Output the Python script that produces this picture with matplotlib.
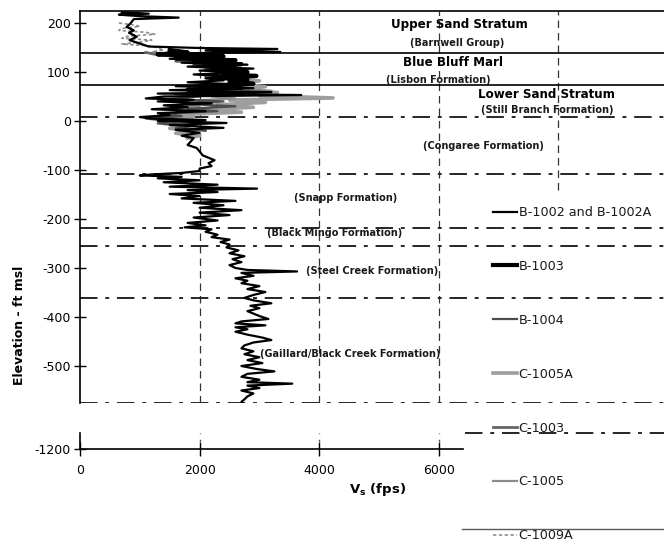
import matplotlib
matplotlib.use("Agg")
import matplotlib.pyplot as plt
from matplotlib.lines import Line2D

plt.rcParams["font.family"] = ["DejaVu Sans"]
plt.rcParams["axes.unicode_minus"] = False

# Shear-wave velocity profiles (elevation in ft msl, Vs in fps)
b1002_elev = [222, 219, 217, 214, 211, 208, 200, 192, 185, 180, 172, 165, 158, 152, 149, 147, 144,
              141, 138, 134, 130, 127, 123, 119, 115, 111, 107, 103, 99, 95, 91, 87, 83, 79, 75,
              71, 67, 63, 59, 56, 53, 50, 46, 43, 40, 36, 32, 28, 24, 20, 16, 12, 8, 5, 2, 0,
              -4, -8, -14, -18, -24, -30, -35, -42, -49, -55, -62, -70, -80, -86, -92, -97, -102,
              -106, -109, -111, -114, -117, -121, -125, -130, -134, -138, -141, -145, -149, -153,
              -158, -163, -167, -172, -177, -182, -187, -192, -197, -203, -208, -213, -217, -221,
              -226, -232, -237, -242, -247, -252, -258, -264, -270, -276, -282, -288, -294, -300,
              -304, -307, -310, -316, -321, -326, -331, -337, -343, -349, -355, -361, -366, -372,
              -377, -382, -388, -393, -398, -404, -409, -413, -417, -421, -425, -430, -436, -442,
              -447, -452, -458, -464, -470, -476, -482, -488, -494, -500, -506, -511, -516, -522,
              -528, -533, -536, -540, -545, -550, -556, -562, -568, -573, -577]
b1002_vs = [700, 1150, 650, 1000, 1650, 900, 850, 780, 900, 820, 950, 830, 1000, 1150, 2000, 3300, 2100,
            3350, 1600, 1400, 2200, 1500, 2600, 1700, 2800, 1800, 2900, 2000, 2700, 1900, 2500, 2100, 2400, 1800, 2600,
            1600, 2900, 1500, 3200, 1300, 3700, 1400, 1100, 1900, 1300, 2200, 1400, 1800, 1200, 2100, 1300, 1500, 1000, 1200, 2100, 1300,
            2450, 1500, 2400, 1600, 2000, 1700, 1900, 1850, 1800, 1950, 2000, 2050, 2250, 2150, 2200, 2000, 2000,
            1700, 1200, 1000, 1700, 1300, 2000, 1400, 2300, 1500, 2960, 1800, 2300, 1500, 2000,
            1700, 2600, 1900, 2400, 2000, 2700, 2000, 2500, 1900, 2300, 1800, 2100, 1750, 2200,
            2100, 2300, 2200, 2500, 2350, 2500, 2450, 2650, 2500, 2750, 2550, 2700, 2500, 2600,
            2800, 3630, 2700, 2900, 2600, 2800, 2700, 3000, 2800, 3100, 2900, 2750, 2900, 3200,
            2850, 3000, 2800, 2900, 3000, 3150, 2700, 2600, 3100, 2600, 2800, 2600, 2800, 3050,
            3200, 2900, 2750, 2700, 2900, 2750, 3000, 2800, 3050, 2700, 2950, 3250, 2800, 2700,
            3000, 2800, 3550, 2800, 3000, 2700, 2900, 2800, 2750, 2700, 2720]

b1003_elev = [145, 140, 136, 132, 128, 124, 120, 116, 112, 108, 104, 100, 96, 92, 88, 84, 80, 76, 72, 68, 64, 60]
b1003_vs = [1500, 1800, 1300, 2400, 1600, 2600, 1900, 2700, 2100, 2600, 2200, 2800, 2400, 2950, 2300, 2800,
            2500, 2900, 2200, 2700, 1800, 2100]

b1004_elev = [60, 55, 50, 45, 40, 35, 30, 25, 20, 15, 10, 5, 0, -5, -10, -15, -20]
b1004_vs = [2600, 1600, 2000, 1500, 2400, 1700, 2600, 1800, 2300, 1400, 1700, 1100, 1500, 1300, 1900, 1600, 2100]

c1005a_elev = [125, 118, 112, 106, 100, 94, 88, 82, 76, 70, 64, 58, 52, 47, 43, 38, 33, 28, 23, 18, 13, 9,
               4, 0, -5, -10, -15, -20, -25, -30, -35]
c1005a_vs = [1700, 2200, 1900, 2500, 2300, 2800, 2500, 3000, 2600, 3100, 2700, 3300, 3000, 4230, 2500, 3100,
             2300, 2900, 2000, 2700, 1600, 1900, 1300, 1600, 1400, 1800, 1500, 1900, 1600, 2000, 1800]

c1003_elev = [140, 135, 130, 126, 122, 118, 114, 110, 106, 102, 98, 94, 90, 86]
c1003_vs = [1100, 1300, 1800, 2200, 1600, 2400, 1900, 2600, 2100, 2700, 2300, 2500, 2100, 2400]

c1005_elev = [75, 70, 66, 62, 58, 54, 50, 46, 42, 38, 34, 30, 26, 22]
c1005_vs = [2100, 2800, 2400, 3200, 2600, 3000, 2200, 2600, 1900, 2300, 1700, 2000, 1500, 1800]

c1009a_elev = [200, 196, 193, 189, 185, 181, 177, 173, 169, 165, 161, 157, 153, 149, 145, 141, 137, 133]
c1009a_vs = [650, 900, 1000, 700, 650, 1100, 1250, 800, 700, 1200, 1000, 700, 1200, 1300, 1400, 1200, 1500, 1700]

# Stratigraphic boundaries (ft msl)
solid_bounds = [139, 73]
dashdot_bounds = [8, -108, -218, -255, -361, -575]

# Unit labels: (text, Vs position, elevation, bold)
unit_labels = [
    ("Upper Sand Stratum", 6338, 196, True),
    ("(Barnwell Group)", 6304, 159, False),
    ("Blue Bluff Marl", 6237, 120, True),
    ("(Lisbon Formation)", 5987, 84, False),
    ("Lower Sand Stratum", 7809, 55, True),
    ("(Still Branch Formation)", 7809, 22, False),
    ("(Congaree Formation)", 6739, -51, False),
    ("(Snapp Formation)", 4448, -157, False),
    ("(Black Mingo Formation)", 4264, -229, False),
    ("(Steel Creek Formation)", 4883, -306, False),
    ("(Gaillard/Black Creek Formation)", 4515, -476, False),
]

x_ticks = [0, 2000, 4000, 6000]
y_ticks = [200, 100, 0, -100, -200, -300, -400, -500]

W, H = 664, 544
fig = plt.figure(figsize=(W / 100, H / 100), dpi=100)

X_MAX = 9766
ax = fig.add_axes([80 / W, 1 - 403 / H, 1 - 80 / W, 392 / H])
ax.set_xlim(0, X_MAX)
ax.set_ylim(-575.5, 224.5)

dashdot = (0, (9, 4, 2, 4))
grid_dash = (0, (6, 4))
for gx in [2000, 4000, 6000]:
    ax.axvline(gx, color="0.2", lw=0.9, ls=grid_dash, zorder=1)
ax.plot([8000, 8000], [-141, 224.5], color="0.2", lw=0.9, ls=grid_dash, zorder=1)

for b in solid_bounds:
    ax.axhline(b, color="black", lw=1.2, zorder=2)
for b in dashdot_bounds:
    ax.axhline(b, color="0.15", lw=1.4, ls=dashdot, zorder=2)

series = [
    ("B-1002 and B-1002A", b1002_vs, b1002_elev, dict(color="black", lw=1.6, zorder=6)),
    ("B-1003", b1003_vs, b1003_elev, dict(color="black", lw=3.0, zorder=5)),
    ("B-1004", b1004_vs, b1004_elev, dict(color="0.3", lw=1.6, zorder=5)),
    ("C-1005A", c1005a_vs, c1005a_elev, dict(color="0.62", lw=2.6, zorder=4)),
    ("C-1003", c1003_vs, c1003_elev, dict(color="0.4", lw=2.0, zorder=4)),
    ("C-1005", c1005_vs, c1005_elev, dict(color="0.55", lw=1.6, zorder=4)),
    ("C-1009A", c1009a_vs, c1009a_elev, dict(color="0.55", lw=1.2, ls=(0, (2, 1.5)), zorder=4)),
]
handles = []
for name, vs, el, kw in series:
    line, = ax.plot(vs, el, label=name, **kw)
    handles.append(line)

for txt, xv, yv, bold in unit_labels:
    ax.text(xv, yv, txt, ha="center", va="center",
            fontsize=8.6 if bold else 7.0,
            fontweight="bold", color="black" if bold else "0.1", zorder=7)

for side in ["right", "bottom"]:
    ax.spines[side].set_visible(False)
ax.spines["top"].set_linewidth(1.2)
ax.spines["left"].set_linewidth(1.2)
ax.set_xticks([])
ax.set_yticks(y_ticks)
ax.set_yticklabels([str(t) for t in y_ticks])
ax.tick_params(axis="y", direction="inout", length=9, width=1.0, labelsize=9, pad=2)

# Lower panel for the deep interval
ax2 = fig.add_axes([80 / W, 1 - 449 / H, 1 - 80 / W, 16 / H])
ax2.set_xlim(0, X_MAX)
ax2.set_ylim(-1200, -1167)
for gx in [2000, 4000, 6000]:
    ax2.axvline(gx, color="0.3", lw=1.0, ls=(0, (1.5, 4)), zorder=1)
ax2.axhline(-1167, xmin=(465 - 80) / (W - 80), xmax=1, color="0.15", lw=1.4, ls=dashdot, clip_on=False)
for side in ["right", "top"]:
    ax2.spines[side].set_visible(False)
ax2.spines["bottom"].set_bounds(0, 6400)
ax2.spines["bottom"].set_linewidth(1.2)
ax2.spines["left"].set_linewidth(1.2)
ax2.set_yticks([-1200])
ax2.set_yticklabels(["-1200"])
ax2.set_xticks(x_ticks)
ax2.set_xticklabels([str(t) for t in x_ticks])
ax2.tick_params(axis="y", direction="inout", length=9, width=1.0, labelsize=9, pad=2)
ax2.tick_params(axis="x", direction="inout", length=10, width=1.0, labelsize=9, pad=6)

fig.text(378 / W, 1 - 490 / H, r"V$_\mathbf{s}$ (fps)", ha="center", va="center",
         fontsize=9.5, fontweight="bold")
fig.text(20 / W, 1 - 325 / H, "Elevation - ft msl", rotation=90, ha="center", va="center",
         fontsize=9, fontweight="bold")

leg = fig.legend(handles=handles, loc="upper left", bbox_to_anchor=(493 / W, 1 - 206 / H),
                 frameon=False, fontsize=9.2, handlelength=1.9, handletextpad=0.1,
                 labelspacing=3.2, borderpad=0, borderaxespad=0)
for t in leg.get_texts():
    t.set_color("0.1")

fig.add_artist(Line2D([462 / W, 1], [1 - 529 / H, 1 - 529 / H], color="0.35", lw=1.0))

fig.savefig("out.png", dpi=100)
